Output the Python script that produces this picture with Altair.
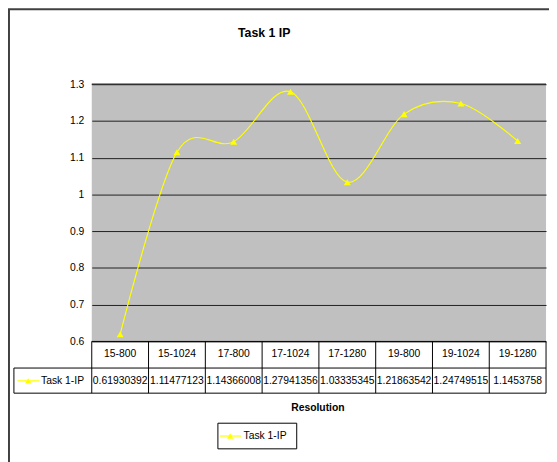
import altair as alt
import pandas as pd

categories = ["15-800", "15-1024", "17-800", "17-1024", "17-1280", "19-800", "19-1024", "19-1280"]
values = [0.61930392, 1.11477123, 1.14366008, 1.27941356, 1.03335345, 1.21863542, 1.24749515, 1.1453758]
value_labels = ["0.61930392", "1.11477123", "1.14366008", "1.27941356", "1.03335345", "1.21863542", "1.24749515", "1.1453758"]
y_ticks = [0.6, 0.7, 0.8, 0.9, 1.0, 1.1, 1.2, 1.3]
series_name = "Task 1-IP"
title_text = "Task 1 IP"
x_title = "Resolution"

FONT = "Liberation Sans"
YELLOW = "#FFFF00"
W, H = 461, 261

df = pd.DataFrame({"cat": categories, "val": values, "lbl": value_labels})
one = pd.DataFrame({"k": [0]})

xenc = lambda bp: alt.X("cat:N", sort=categories, axis=None, bandPosition=bp,
                        scale=alt.Scale(type="band", paddingInner=0, paddingOuter=0))

base = alt.Chart(df)

line = base.mark_line(color=YELLOW, strokeWidth=1.2, interpolate="cardinal").encode(
    x=xenc(0.5),
    y=alt.Y("val:Q", scale=alt.Scale(domain=[0.6, 1.3], nice=False, zero=False),
            axis=alt.Axis(values=y_ticks, format="~g", grid=True, gridColor="#202020",
                          gridWidth=1, domain=False, ticks=False, labelPadding=8,
                          labelOverlap=False, labelFlush=False, tickCount=8,
                          labelFont=FONT, labelFontSize=10.5, labelColor="black", title=None)),
)
points = base.mark_point(shape="triangle-up", filled=True, color=YELLOW, size=50, opacity=1).encode(
    x=xenc(0.5), y="val:Q")

oc = alt.Chart(one)
top_grid = oc.mark_rule(color="#303030", strokeWidth=1.5).encode(
    x=alt.value(0), x2=alt.value(W), y=alt.datum(y_ticks[-1]))

header = base.mark_text(font=FONT, fontSize=10.5, color="black", baseline="middle").encode(
    x=xenc(0.5), y=alt.value(274), text="cat:N")
vals_txt = base.mark_text(font=FONT, fontSize=10.5, color="black", baseline="middle").encode(
    x=xenc(0.5), y=alt.value(301), text="lbl:N")

vrules = base.mark_rule(color="black", strokeWidth=1).encode(
    x=xenc(0), y=alt.value(261), y2=alt.value(313.5))
vright = oc.mark_rule(color="black").encode(x=alt.value(W), y=alt.value(261), y2=alt.value(313.5))
vleft = oc.mark_rule(color="black").encode(x=alt.value(-79), y=alt.value(288), y2=alt.value(313.5))
hbottom0 = oc.mark_rule(color="black").encode(x=alt.value(0), x2=alt.value(W), y=alt.value(261))
hmid = oc.mark_rule(color="black").encode(x=alt.value(-79), x2=alt.value(W), y=alt.value(288))
hbot = oc.mark_rule(color="black").encode(x=alt.value(-79), x2=alt.value(W), y=alt.value(313.5))

tbl_sym_line = oc.mark_rule(color=YELLOW, strokeWidth=1.2).encode(
    x=alt.value(-75.5), x2=alt.value(-53), y=alt.value(301))
tbl_sym_pt = oc.mark_point(shape="triangle-up", filled=True, color=YELLOW, size=40, opacity=1).encode(
    x=alt.value(-64.5), y=alt.value(301))
tbl_lbl = oc.mark_text(font=FONT, fontSize=10.5, color="black", align="left", baseline="middle").encode(
    x=alt.value(-51.5), y=alt.value(301), text=alt.value(series_name))

xtitle = oc.mark_text(font=FONT, fontSize=10.5, fontWeight="bold", color="black", baseline="middle").encode(
    x=alt.value(229.5), y=alt.value(329), text=alt.value(x_title))

leg_box = oc.mark_rect(fill="white", stroke="black", strokeWidth=1).encode(
    x=alt.value(128), x2=alt.value(208), y=alt.value(344), y2=alt.value(370))
leg_line = oc.mark_rule(color=YELLOW, strokeWidth=1.2).encode(
    x=alt.value(130), x2=alt.value(151.5), y=alt.value(357))
leg_pt = oc.mark_point(shape="triangle-up", filled=True, color=YELLOW, size=40, opacity=1).encode(
    x=alt.value(140.5), y=alt.value(357))
leg_txt = oc.mark_text(font=FONT, fontSize=10.5, color="black", align="left", baseline="middle").encode(
    x=alt.value(154), y=alt.value(357), text=alt.value(series_name))

title = oc.mark_text(font=FONT, fontSize=12.5, fontWeight="bold", color="black", baseline="middle").encode(
    x=alt.value(175), y=alt.value(-52), text=alt.value(title_text))

border_top = oc.mark_rule(color="#404040", strokeWidth=2).encode(
    x=alt.value(-85), x2=alt.value(470), y=alt.value(-76))
border_left = oc.mark_rule(color="#404040", strokeWidth=2).encode(
    x=alt.value(-84), y=alt.value(-76), y2=alt.value(400))

chart = alt.layer(
    line, top_grid, points, header, vals_txt, vrules, vright, vleft, hbottom0, hmid, hbot,
    tbl_sym_line, tbl_sym_pt, tbl_lbl, xtitle, leg_box, leg_line, leg_pt, leg_txt,
    title, border_top, border_left,
).properties(
    width=W, height=H,
    autosize=alt.AutoSizeParams(type="none"),
    padding={"left": 85, "top": 74, "right": 3, "bottom": 119},
    background="white",
).configure_view(fill="#c0c0c0", strokeWidth=0)

chart.save("out.html", embed_options={"renderer": "svg", "actions": False})
